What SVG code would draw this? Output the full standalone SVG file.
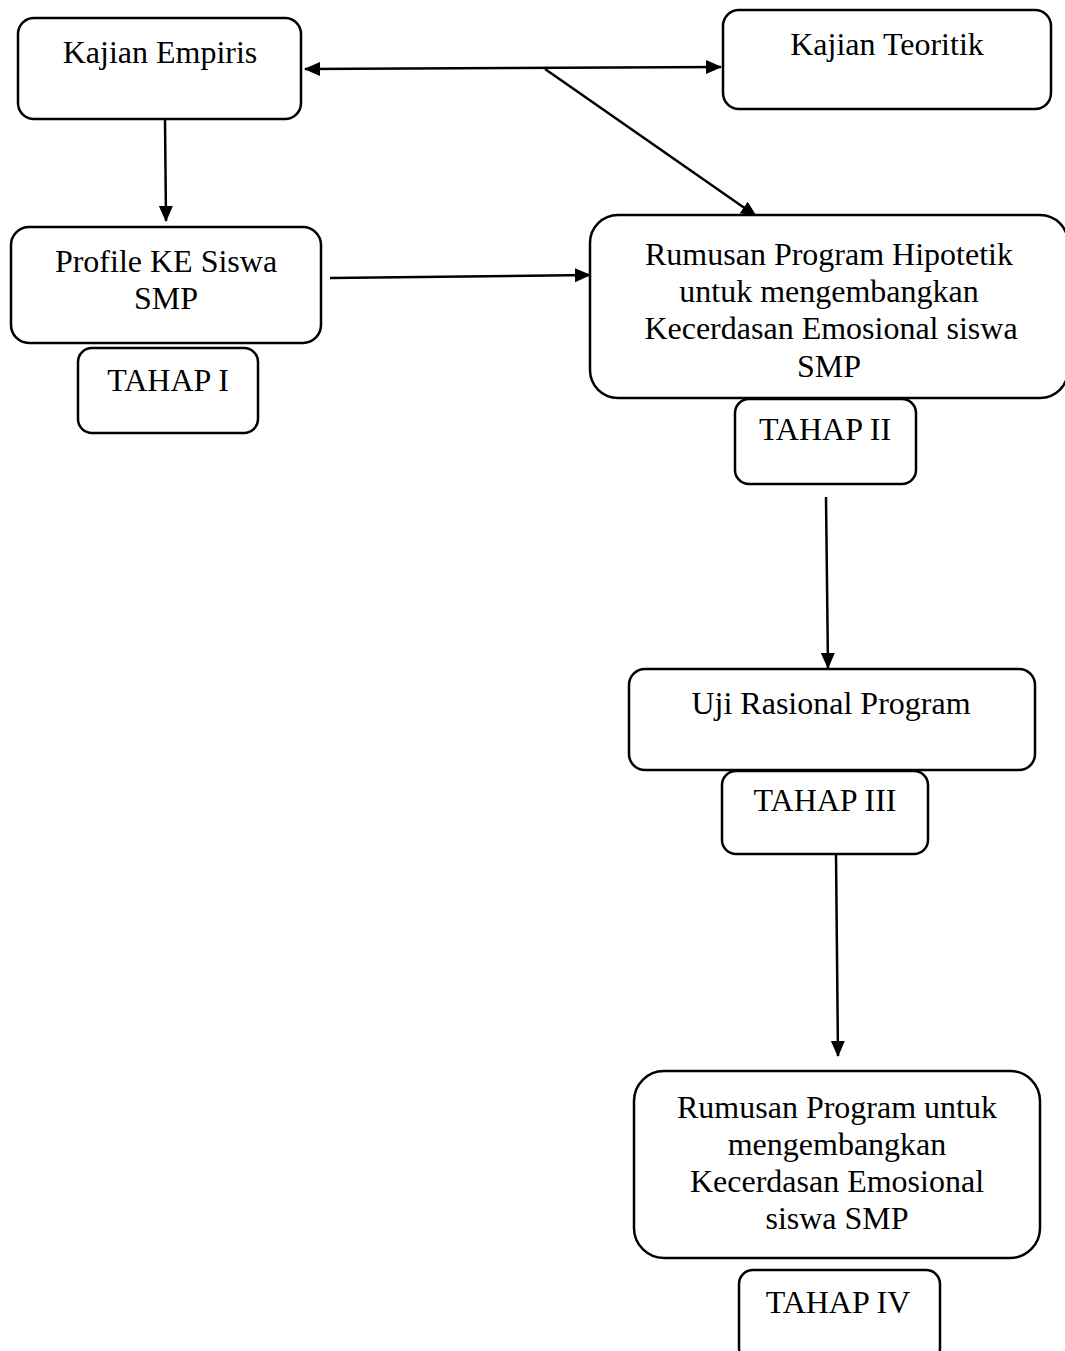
<svg xmlns="http://www.w3.org/2000/svg" width="1065" height="1351" viewBox="0 0 1065 1351">
<defs>
<style>
.box{fill:#fff;stroke:#000;stroke-width:2.5}
.t{font-family:"Liberation Serif","Times New Roman",serif;font-size:32px;fill:#000;text-anchor:middle}
.c{stroke:#000;stroke-width:2.5;fill:none}
</style>
<marker id="ahb" markerWidth="16" markerHeight="16" refX="15" refY="8" orient="auto-start-reverse" markerUnits="userSpaceOnUse" viewBox="0 0 16 16">
<path d="M0,1 L16,8 L0,15 Z" fill="#000"/>
</marker>
</defs>
<rect width="1065" height="1351" fill="#fff"/>
<g id="connectors">
<line class="c" x1="305" y1="69" x2="721" y2="67" marker-start="url(#ahb)" marker-end="url(#ahb)"/>
<line class="c" x1="545" y1="69" x2="756" y2="216" marker-end="url(#ahb)"/>
<line class="c" x1="165" y1="120" x2="166" y2="221" marker-end="url(#ahb)"/>
<line class="c" x1="330" y1="278" x2="590" y2="275" marker-end="url(#ahb)"/>
<line class="c" x1="826" y1="497" x2="828" y2="668" marker-end="url(#ahb)"/>
<line class="c" x1="836" y1="855" x2="838" y2="1056" marker-end="url(#ahb)"/>
</g>
<g id="kajian-empiris">
<rect class="box" x="18" y="18" width="283" height="101" rx="16"/>
<text class="t" x="160" y="63">Kajian Empiris</text>
</g>
<g id="kajian-teoritik">
<rect class="box" x="723" y="10" width="328" height="99" rx="16"/>
<text class="t" x="887" y="55">Kajian Teoritik</text>
</g>
<g id="profile">
<rect class="box" x="11" y="227" width="310" height="116" rx="18"/>
<text class="t" x="166" y="272">Profile KE Siswa</text>
<text class="t" x="166" y="309">SMP</text>
</g>
<g id="tahap1">
<rect class="box" x="78" y="348" width="180" height="85" rx="14"/>
<text class="t" x="168" y="391">TAHAP I</text>
</g>
<g id="hipotetik">
<rect class="box" x="590" y="215" width="478" height="183" rx="28"/>
<text class="t" x="829" y="265">Rumusan Program Hipotetik</text>
<text class="t" x="829" y="302">untuk mengembangkan</text>
<text class="t" x="831" y="339">Kecerdasan Emosional siswa</text>
<text class="t" x="829" y="377">SMP</text>
</g>
<g id="tahap2">
<rect class="box" x="735" y="399" width="181" height="85" rx="14"/>
<text class="t" x="825" y="440">TAHAP II</text>
</g>
<g id="uji">
<rect class="box" x="629" y="669" width="406" height="101" rx="16"/>
<text class="t" x="831" y="714">Uji Rasional Program</text>
</g>
<g id="tahap3">
<rect class="box" x="722" y="771" width="206" height="83" rx="14"/>
<text class="t" x="825" y="811">TAHAP III</text>
</g>
<g id="rumusan">
<rect class="box" x="634" y="1071" width="406" height="187" rx="30"/>
<text class="t" x="837" y="1118">Rumusan Program untuk</text>
<text class="t" x="837" y="1155">mengembangkan</text>
<text class="t" x="837" y="1192">Kecerdasan Emosional</text>
<text class="t" x="837" y="1229">siswa SMP</text>
</g>
<g id="tahap4">
<rect class="box" x="739" y="1270" width="201" height="92" rx="14"/>
<text class="t" x="838" y="1313">TAHAP IV</text>
</g>
</svg>
